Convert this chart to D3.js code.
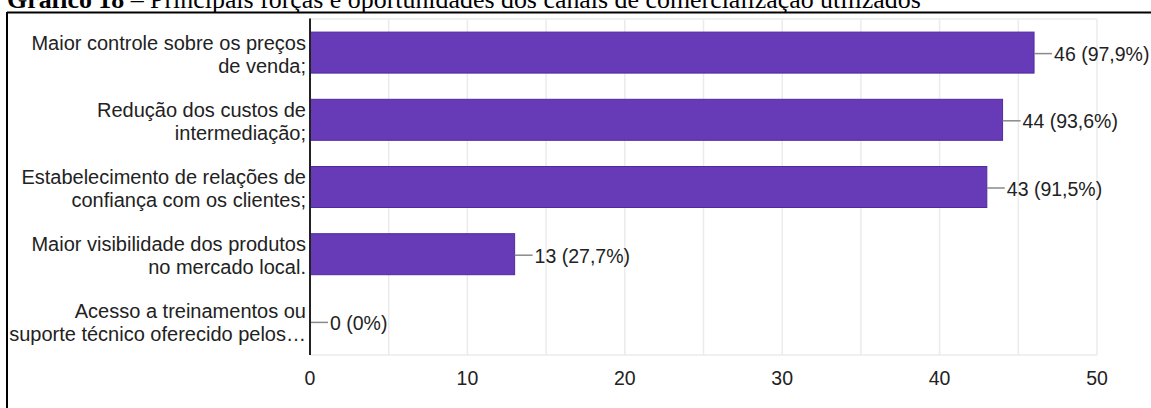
<!DOCTYPE html>
<html>
<head>
<meta charset="utf-8">
<script src="https://cdn.jsdelivr.net/npm/d3@7"></script>
<style>
  html, body { margin: 0; padding: 0; background: #fff; }
  svg { display: block; }
</style>
</head>
<body>
<svg id="chart" width="1151" height="408"></svg>
<script>
// ---- data ----
const titleBold = "Gráfico 18";
const titleRest = " – Principais forças e oportunidades dos canais de comercialização utilizados";
const categoryLines = [
  ["Maior controle sobre os preços", "de venda;"],
  ["Redução dos custos de", "intermediação;"],
  ["Estabelecimento de relações de", "confiança com os clientes;"],
  ["Maior visibilidade dos produtos", "no mercado local."],
  ["Acesso a treinamentos ou", "suporte técnico oferecido pelos…"]
];
const counts = [46, 44, 43, 13, 0];
const percents = ["97,9%", "93,6%", "91,5%", "27,7%", "0%"];
const xTicks = [0, 10, 20, 30, 40, 50];
const gridTicks = [5, 10, 15, 20, 25, 30, 35, 40, 45, 50];

// ---- layout ----
const svg = d3.select("#chart");
const plot = { left: 310, right: 1097, top: 19, bottom: 355 };
const font = "'Liberation Sans', Arial, sans-serif";

const x = d3.scaleLinear().domain([0, 50]).range([plot.left, plot.right]);
const y = d3.scaleBand()
  .domain(d3.range(counts.length))
  .range([plot.top, plot.bottom])
  .paddingInner(0.39)
  .paddingOuter(0.195);

// title (cut off at top)
const title = svg.append("text")
  .attr("x", 7).attr("y", 7.5)
  .attr("font-family", "'Liberation Serif', 'Times New Roman', serif")
  .attr("font-size", 25.9)
  .attr("fill", "#000");
title.append("tspan").attr("font-weight", "bold").text(titleBold);
title.append("tspan").text(titleRest);

// frame
svg.append("line").attr("x1", 7).attr("x2", 1151).attr("y1", 12.5).attr("y2", 12.5)
  .attr("stroke", "#000").attr("stroke-width", 2);
svg.append("line").attr("x1", 7).attr("x2", 7).attr("y1", 12).attr("y2", 408)
  .attr("stroke", "#000").attr("stroke-width", 2);

// grid
const g = svg.append("g");
g.selectAll("line.grid").data(gridTicks).join("line")
  .attr("class", "grid")
  .attr("x1", d => x(d)).attr("x2", d => x(d))
  .attr("y1", plot.top).attr("y2", plot.bottom)
  .attr("stroke", "#ebebeb").attr("stroke-width", 1.5);
g.append("line").attr("x1", plot.left).attr("x2", plot.right)
  .attr("y1", plot.top).attr("y2", plot.top)
  .attr("stroke", "#ebebeb").attr("stroke-width", 1.5);
g.append("line").attr("x1", plot.left).attr("x2", plot.right)
  .attr("y1", plot.bottom).attr("y2", plot.bottom)
  .attr("stroke", "#ebebeb").attr("stroke-width", 1.5);

// bars
svg.selectAll("rect.bar").data(counts).join("rect")
  .attr("class", "bar")
  .attr("x", x(0))
  .attr("y", (d, i) => y(i))
  .attr("width", d => x(d) - x(0))
  .attr("height", y.bandwidth())
  .attr("fill", "#673ab7")
  .attr("stroke", "#4f2a9e")
  .attr("stroke-width", 1)
  .attr("display", d => d > 0 ? null : "none");

// y axis line
svg.append("line").attr("x1", plot.left).attr("x2", plot.left)
  .attr("y1", plot.top - 0.5).attr("y2", plot.bottom)
  .attr("stroke", "#222").attr("stroke-width", 2);

// category labels
const cat = svg.selectAll("text.cat").data(categoryLines).join("text")
  .attr("class", "cat")
  .attr("text-anchor", "end")
  .attr("font-family", font)
  .attr("font-size", 20)
  .attr("fill", "#222");
cat.each(function(lines, i) {
  const c = y(i) + y.bandwidth() / 2;
  d3.select(this).selectAll("tspan").data(lines).join("tspan")
    .attr("x", 306)
    .attr("y", (d, j) => c - 10 + j * 23)
    .attr("dominant-baseline", "central")
    .text(d => d);
});

// value leader lines and labels
svg.selectAll("line.lead").data(counts).join("line")
  .attr("class", "lead")
  .attr("x1", d => x(d) + (d > 0 ? 0 : 1))
  .attr("x2", d => x(d) + 18)
  .attr("y1", (d, i) => y(i) + y.bandwidth() / 2 + 1)
  .attr("y2", (d, i) => y(i) + y.bandwidth() / 2 + 1)
  .attr("stroke", "#8a8a8a").attr("stroke-width", 1.5);
svg.selectAll("text.val").data(counts).join("text")
  .attr("class", "val")
  .attr("x", d => x(d) + 20)
  .attr("y", (d, i) => y(i) + y.bandwidth() / 2 + 1.5)
  .attr("dominant-baseline", "central")
  .attr("font-family", font)
  .attr("font-size", 19.5)
  .attr("fill", "#222")
  .text((d, i) => `${d} (${percents[i]})`);

// x axis tick labels
svg.selectAll("text.tick").data(xTicks).join("text")
  .attr("class", "tick")
  .attr("x", d => x(d))
  .attr("y", 378)
  .attr("dominant-baseline", "central")
  .attr("text-anchor", "middle")
  .attr("font-family", font)
  .attr("font-size", 19.5)
  .attr("fill", "#222")
  .text(d => d);
</script>
</body>
</html>
